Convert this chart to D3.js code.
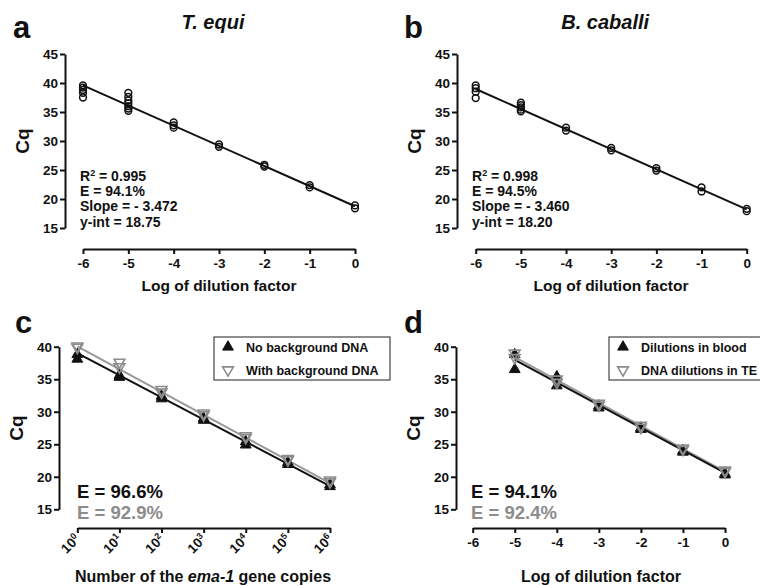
<!DOCTYPE html>
<html><head><meta charset="utf-8">
<script src="https://cdn.jsdelivr.net/npm/d3@7"></script>
<style>
html,body{margin:0;padding:0;background:#fff;}
svg{display:block;font-family:"Liberation Sans",Arial,sans-serif;font-weight:bold;}
</style></head>
<body>
<svg id="chart" width="760" height="586"></svg>
<script>
// ---------- DATA ----------
const dilutionsAB = [-6, -5, -4, -3, -2, -1, 0];
const tequiCq = [
  [39.6, 39.2, 38.8, 38.3, 37.5],
  [38.3, 37.6, 37.0, 36.5, 36.0, 35.6, 35.2],
  [33.2, 32.7, 32.3],
  [29.4, 29.0],
  [25.9, 25.6],
  [22.4, 22.0],
  [18.9, 18.4]
];
const bcaballiCq = [
  [39.6, 39.1, 38.5, 37.4],
  [36.6, 36.2, 35.8, 35.4, 35.1],
  [32.3, 31.8],
  [28.8, 28.4],
  [25.3, 24.9],
  [22.0, 21.3],
  [18.3, 17.9]
];
const tequiFit = {slope: -3.472, intercept: 18.75};
const bcaballiFit = {slope: -3.460, intercept: 18.20};
const tequiStats = ["0.995", "E = 94.1%", "Slope = - 3.472", "y-int = 18.75"];
const bcaballiStats = ["0.998", "E = 94.5%", "Slope = - 3.460", "y-int = 18.20"];

const copiesLog = [0, 1, 2, 3, 4, 5, 6];
const noBackgroundCq = [[38.8, 38.1], [35.6, 35.3], [32.4, 32.0], [29.0, 28.7], [25.4, 24.9], [22.2, 21.9], [18.8, 18.5]];
const withBackgroundCq = [[40.1, 39.9], [37.6, 36.9], [33.4, 33.0], [29.8, 29.5], [26.3, 26.0], [22.8, 22.6], [19.5, 19.2]];
const noBackgroundFit = {slope: -3.406, intercept: 39.0};
const withBackgroundFit = {slope: -3.505, intercept: 40.05};
const cEfficiency = ["E = 96.6%", "E = 92.9%"];
const cLegend = ["No background DNA", "With background DNA"];

const dilutionsD = [-5, -4, -3, -2, -1, 0];
const bloodCq = [[38.8, 36.5], [35.4, 34.0], [30.9, 30.6], [27.5, 27.3], [24.0, 23.8], [20.5, 20.3]];
const teCq = [[39.0, 38.3], [35.0, 34.5], [31.3, 31.0], [27.9, 27.6], [24.4, 24.2], [21.0, 20.8]];
const bloodFit = {slope: -3.472, intercept: 20.6};
const teFit = {slope: -3.516, intercept: 20.8};
const dEfficiency = ["E = 94.1%", "E = 92.4%"];
const dLegend = ["Dilutions in blood", "DNA dilutions in TE"];

const ticksYab = [15, 20, 25, 30, 35, 40, 45];
const ticksYcd = [15, 20, 25, 30, 35, 40];
const ticksXlog = [-6, -5, -4, -3, -2, -1, 0];
const ticksXcopies = [0, 1, 2, 3, 4, 5, 6];

// ---------- DRAW ----------
const svg = d3.select("#chart");
const BLACK = "#111", GRAY = "#8c8c8c";
const FONT_TICK = 13.5;

function makePanel(o) {
  const g = svg.append("g");
  const x = d3.scaleLinear().domain(o.xDomain).range([o.x0, o.x1]);
  const y = d3.scaleLinear().domain(o.yDomain).range([o.yBottom, o.yTop]);
  const ya = g.append("g").attr("transform", `translate(${o.yAxisX},0)`)
    .call(d3.axisLeft(y).tickValues(o.yTicks).tickSize(5).tickPadding(2).tickSizeOuter(0));
  const xa = g.append("g").attr("transform", `translate(0,${o.xAxisY})`)
    .call(d3.axisBottom(x).tickValues(o.xTicks).tickSize(5).tickPadding(4).tickSizeOuter(0)
      .tickFormat(o.xFormat || (d => String(d))));
  [ya, xa].forEach(a => {
    a.select(".domain").attr("stroke", BLACK).attr("stroke-width", 2);
    a.selectAll(".tick line").attr("stroke", BLACK).attr("stroke-width", 2);
    a.selectAll(".tick text").attr("fill", BLACK).attr("font-size", FONT_TICK)
      .attr("font-family", '"Liberation Sans",Arial,sans-serif').attr("font-weight", "bold");
  });
  g.append("text").attr("x", o.letterX).attr("y", o.letterY).attr("font-size", 31).attr("fill", BLACK).text(o.letter);
  if (o.title) {
    g.append("text").attr("x", (o.x0 + o.x1) / 2 - 6).attr("y", 29).attr("text-anchor", "middle")
      .attr("font-size", 20).attr("font-style", "italic").attr("fill", BLACK).text(o.title);
  }
  g.append("text").attr("transform", `translate(${o.yAxisX - 36},${(o.yTop + o.yBottom) / 2}) rotate(-90)`)
    .attr("text-anchor", "middle").attr("font-size", 19).attr("fill", BLACK).text("Cq");
  return {g, x, y, xa};
}

function fitLine(p, fit, xs, color) {
  const lx = [d3.min(xs), d3.max(xs)];
  p.g.append("line")
    .attr("x1", p.x(lx[0])).attr("y1", p.y(fit.intercept + fit.slope * lx[0]))
    .attr("x2", p.x(lx[1])).attr("y2", p.y(fit.intercept + fit.slope * lx[1]))
    .attr("stroke", color).attr("stroke-width", 2);
}

function circles(p, xs, vals) {
  const pts = [];
  xs.forEach((xv, i) => vals[i].forEach(v => pts.push([xv, v])));
  p.g.append("g").selectAll("circle").data(pts).join("circle")
    .attr("cx", d => p.x(d[0])).attr("cy", d => p.y(d[1])).attr("r", 3.4)
    .attr("fill", "none").attr("stroke", BLACK).attr("stroke-width", 1.5);
}

const triUp = d3.symbol().type(d3.symbolTriangle).size(50);
function triangles(p, xs, vals, down) {
  const pts = [];
  xs.forEach((xv, i) => vals[i].forEach(v => pts.push([xv, v])));
  p.g.append("g").selectAll("path").data(pts).join("path")
    .attr("d", triUp)
    .attr("transform", d => `translate(${p.x(d[0])},${p.y(d[1])})${down ? " rotate(180)" : ""}`)
    .attr("fill", down ? "none" : BLACK)
    .attr("stroke", down ? GRAY : BLACK).attr("stroke-width", down ? 1.6 : 1);
}

function legend(p, bx, by, w, labels) {
  const g = p.g.append("g");
  g.append("rect").attr("x", bx).attr("y", by).attr("width", w).attr("height", 43)
    .attr("fill", "#fff").attr("stroke", "#444").attr("stroke-width", 1.2);
  labels.forEach((t, i) => {
    const cy = by + 10 + i * 23;
    g.append("path").attr("d", triUp)
      .attr("transform", `translate(${bx + 14},${cy})${i ? " rotate(180)" : ""}`)
      .attr("fill", i ? "none" : BLACK).attr("stroke", i ? GRAY : BLACK).attr("stroke-width", i ? 1.6 : 1);
    g.append("text").attr("x", bx + 32).attr("y", cy + 4.5).attr("font-size", 12.5).attr("fill", BLACK).text(t);
  });
}

function stats(p, x0, lines) {
  lines.forEach((t, i) => {
    const tx = p.g.append("text").attr("x", x0).attr("y", 180.5 + i * 15.4).attr("font-size", 14).attr("fill", BLACK);
    if (i === 0) {
      tx.append("tspan").text("R");
      tx.append("tspan").attr("dy", -5).attr("font-size", 9).text("2");
      tx.append("tspan").attr("dy", 5).text(" = " + t);
    } else tx.text(t);
  });
}

// Panel a
const pa = makePanel({xDomain: [-6, 0], x0: 83, x1: 355, yDomain: [15, 45], yBottom: 228, yTop: 54,
  yAxisX: 65, xAxisY: 249, yTicks: ticksYab, xTicks: ticksXlog, letter: "a", letterX: 13, letterY: 38, title: "T. equi"});
fitLine(pa, tequiFit, dilutionsAB, BLACK);
circles(pa, dilutionsAB, tequiCq);
stats(pa, 80, tequiStats);

// Panel b
const pb = makePanel({xDomain: [-6, 0], x0: 475.7, x1: 746.7, yDomain: [15, 45], yBottom: 228, yTop: 54,
  yAxisX: 457, xAxisY: 249, yTicks: ticksYab, xTicks: ticksXlog, letter: "b", letterX: 404, letterY: 38, title: "B. caballi"});
fitLine(pb, bcaballiFit, dilutionsAB, BLACK);
circles(pb, dilutionsAB, bcaballiCq);
stats(pb, 472, bcaballiStats);

pa.g.append("text").attr("x", 219).attr("y", 291).attr("text-anchor", "middle").attr("font-size", 15.5).attr("fill", BLACK).text("Log of dilution factor");
pb.g.append("text").attr("x", 611).attr("y", 291).attr("text-anchor", "middle").attr("font-size", 15.5).attr("fill", BLACK).text("Log of dilution factor");

// Panel c
const pc = makePanel({xDomain: [0, 6], x0: 77.3, x1: 330, yDomain: [15, 40], yBottom: 509.3, yTop: 346.7,
  yAxisX: 59, xAxisY: 528, yTicks: ticksYcd, xTicks: ticksXcopies, letter: "c", letterX: 15, letterY: 333,
  xFormat: d => ""});
const lab = pc.xa.selectAll(".tick").append("text")
  .attr("transform", "translate(3,12) rotate(-45)")
  .attr("text-anchor", "end").attr("font-size", 13.5).attr("fill", BLACK)
  .attr("font-family", '"Liberation Sans",Arial,sans-serif').attr("font-weight", "bold");
lab.append("tspan").text("10");
lab.append("tspan").attr("dy", -5).attr("font-size", 9).text(d => d);
fitLine(pc, withBackgroundFit, copiesLog, "#999");
fitLine(pc, noBackgroundFit, copiesLog, BLACK);
triangles(pc, copiesLog, noBackgroundCq, false);
triangles(pc, copiesLog, withBackgroundCq, true);
legend(pc, 214, 337, 176, cLegend);
pc.g.append("text").attr("x", 77).attr("y", 498).attr("font-size", 18.5).attr("fill", BLACK).text(cEfficiency[0]);
pc.g.append("text").attr("x", 77).attr("y", 518.5).attr("font-size", 18.5).attr("fill", GRAY).text(cEfficiency[1]);
const ct = pc.g.append("text").attr("x", 203).attr("y", 582).attr("text-anchor", "middle").attr("font-size", 16).attr("fill", BLACK);
ct.append("tspan").text("Number of the ");
ct.append("tspan").attr("font-style", "italic").text("ema-1");
ct.append("tspan").text(" gene copies");

// Panel d
const pd = makePanel({xDomain: [-6, 0], x0: 472.7, x1: 725, yDomain: [15, 40], yBottom: 509.3, yTop: 346.7,
  yAxisX: 456, xAxisY: 528, yTicks: ticksYcd, xTicks: ticksXlog, letter: "d", letterX: 404, letterY: 333});
fitLine(pd, teFit, dilutionsD, "#999");
fitLine(pd, bloodFit, dilutionsD, BLACK);
triangles(pd, dilutionsD, bloodCq, false);
triangles(pd, dilutionsD, teCq, true);
legend(pd, 609, 337, 200, dLegend);
pd.g.append("text").attr("x", 471).attr("y", 498).attr("font-size", 18.5).attr("fill", BLACK).text(dEfficiency[0]);
pd.g.append("text").attr("x", 471).attr("y", 518.5).attr("font-size", 18.5).attr("fill", GRAY).text(dEfficiency[1]);
pd.g.append("text").attr("x", 601).attr("y", 582).attr("text-anchor", "middle").attr("font-size", 16).attr("fill", BLACK).text("Log of dilution factor");
</script>
</body></html>
